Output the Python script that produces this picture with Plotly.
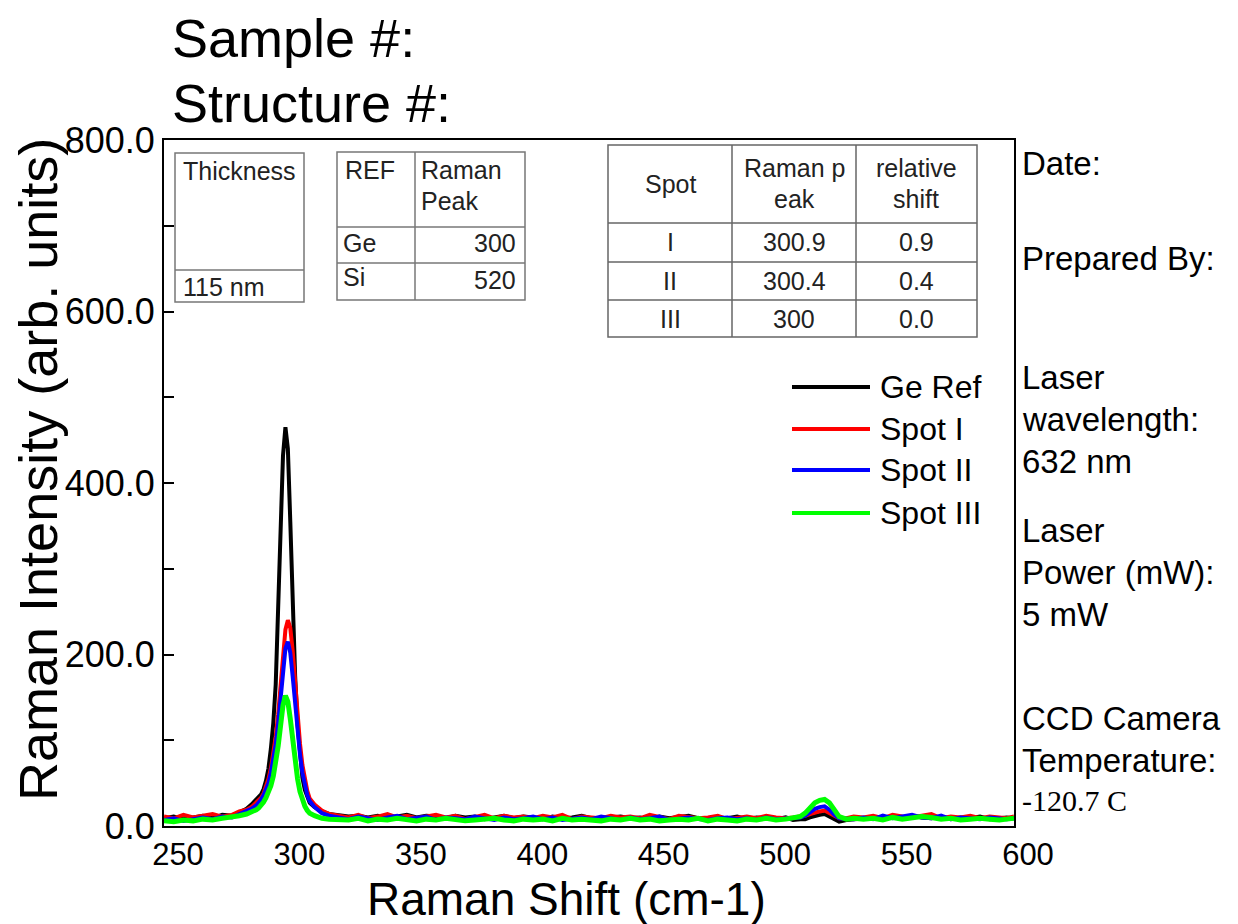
import plotly.graph_objects as go

# ---------------- data ----------------
raman_shift = [250,254,258,262,266,270,274,278,281,284,286,288,
               289,290,291,292,293,294,295,296,297,298,299,300,301,302,303,304,305,306,307,308,309,310,
               312,315,318,
               322,326,330,334,338,342,346,350,354,358,362,366,370,374,378,382,386,390,394,398,402,406,
               410,414,418,422,426,430,434,438,442,446,450,454,458,462,466,470,474,478,482,486,490,494,
               498,502,506,
               509,512,514,516,518,520,522,524,526,528,531,534,
               538,542,546,550,554,558,562,566,570,574,578,582,586,590,594,597,600]

ge_ref = [9,11,8,10,12,9,13,12,16,20,25,30,
          34,37,43,53,67,90,120,165,245,335,432,465,440,355,255,175,118,80,56,42,33,27,
          22,17,14,
          13,11,12,10,12,9,11,13,10,12,11,9,12,10,11,8,10,12,9,11,10,8,11,9,10,12,9,8,10,11,
          9,10,8,11,9,10,12,9,8,10,9,11,8,10,9,8,10,
          7,8,8,10,12,13,14,11,7,5,7,8,
          9,10,8,11,9,12,10,9,11,8,10,9,11,8,9,10,9]

spot_1 = [11,9,13,10,12,14,11,13,17,19,22,27,
          30,33,38,45,55,67,83,104,130,162,198,229,240,231,204,167,129,96,71,53,41,32,
          25,18,14,
          12,10,13,9,11,14,10,12,9,11,13,10,12,8,11,13,9,12,10,11,9,12,10,13,8,11,10,9,12,10,
          11,9,13,10,8,12,11,9,10,12,8,10,11,9,12,10,9,
          10,11,12,14,16,17,18,15,11,9,9,11,
          10,12,9,13,11,10,12,14,9,11,10,12,9,11,10,9,11]

spot_2 = [7,9,6,8,10,8,11,10,14,17,20,24,
          27,31,36,42,50,62,77,95,119,148,180,207,215,202,174,141,110,83,62,47,36,29,
          22,15,12,
          10,8,11,9,7,10,12,8,9,11,7,10,9,8,11,9,7,10,8,9,11,8,10,7,9,10,8,11,9,7,
          10,8,9,11,7,9,10,8,7,9,10,8,9,7,10,8,9,
          9,10,12,16,20,22,23,19,13,9,9,8,
          10,8,12,9,11,13,10,9,12,8,10,9,8,10,9,8,9]

spot_3 = [6,5,7,6,8,7,9,10,12,14,16,19,
          21,24,28,33,39,47,58,73,93,117,141,152,145,125,99,75,55,40,30,23,18,15,
          12,9,8,
          8,7,9,6,8,7,9,8,6,8,7,9,8,6,7,8,9,7,6,8,7,8,6,9,7,8,7,6,8,7,
          9,7,8,6,7,8,7,9,6,8,7,6,8,7,9,7,8,
          9,11,15,21,27,30,31,27,19,11,8,9,
          8,9,7,10,8,9,11,10,8,9,7,8,9,8,7,8,9]

series_names = ["Ge Ref", "Spot I", "Spot II", "Spot III"]
series_values = [ge_ref, spot_1, spot_2, spot_3]
series_colors = ["#000000", "#ff0000", "#0000ff", "#00ff00"]
series_widths = [4, 4, 4, 5]

y_tick_vals = [0, 100, 200, 300, 400, 500, 600, 700, 800]
y_tick_text = ["0.0", "", "200.0", "", "400.0", "", "600.0", "", "800.0"]
x_tick_vals = [250, 300, 350, 400, 450, 500, 550, 600]

ref_rows = [["Ge", "300"], ["Si", "520"]]
spot_rows = [["I", "300.9", "0.9"], ["II", "300.4", "0.4"], ["III", "300", "0.0"]]
thickness = "115 nm"

info_lines = [("Date:", 163), ("Prepared By:", 258),
              ("Laser", 377), ("wavelength:", 419), ("632 nm", 461),
              ("Laser", 530), ("Power (mW):", 572), ("5 mW", 614),
              ("CCD Camera", 718), ("Temperature:", 760)]
ccd_temp = "-120.7 C"

# ---------------- layout geometry (pixels) ----------------
W, H = 1238, 924
L, R, T, B = 164, 1014, 140, 826
def px(x):
    return (x - L) / (R - L)
def py(y):
    return (B - y) / (B - T)

FONT = "Liberation Sans, Arial, sans-serif"

fig = go.Figure()
for name, vals, col, w in zip(series_names, series_values, series_colors, series_widths):
    fig.add_trace(go.Scatter(x=raman_shift, y=vals, mode="lines", name=name,
                             line=dict(color=col, width=w), showlegend=False))

shapes = []
annots = []

def text(t, x, y, size, anchor="left", font=FONT, color="#000"):
    annots.append(dict(text=t, x=px(x), y=py(y), xref="paper", yref="paper",
                       xanchor=anchor, yanchor="middle", showarrow=False,
                       font=dict(family=font, size=size, color=color)))

def rect(x0, y0, x1, y1, color="#777", width=1.5):
    shapes.append(dict(type="rect", xref="paper", yref="paper",
                       x0=px(x0), x1=px(x1), y0=py(y0), y1=py(y1),
                       line=dict(color=color, width=width), layer="above"))

def line(x0, y0, x1, y1, color="#777", width=1.5):
    shapes.append(dict(type="line", xref="paper", yref="paper",
                       x0=px(x0), x1=px(x1), y0=py(y0), y1=py(y1),
                       line=dict(color=color, width=width), layer="above"))

TF = 25
# Thickness table
rect(175, 153, 304, 302)
line(175, 270, 304, 270)
text("Thickness", 181, 171, TF, color="#222")
text(thickness, 181, 287, TF, color="#222")

# REF table
rect(337, 152, 525, 300)
line(415, 152, 415, 300)
line(337, 227, 525, 227)
line(337, 263, 525, 263)
text("REF", 343, 170, TF, color="#222")
text("Raman", 419, 170, TF, color="#222")
text("Peak", 419, 201, TF, color="#222")
for (el, val), yy in zip(ref_rows, [243, 280]):
    text(el, 341, yy - 3 if el == "Si" else yy, TF, color="#222")
    text(val, 518, yy, TF, anchor="right", color="#222")

# Spot table
rect(608, 145, 977, 337, color="#666")
line(732, 145, 732, 337, color="#666")
line(856, 145, 856, 337, color="#666")
for yy in [223, 262, 300]:
    line(608, yy, 977, yy, color="#666")
text("Spot", 670, 184, TF, anchor="center", color="#222")
text("Raman p", 794, 168, TF, anchor="center", color="#222")
text("eak", 794, 199, TF, anchor="center", color="#222")
text("relative", 916, 168, TF, anchor="center", color="#222")
text("shift", 916, 199, TF, anchor="center", color="#222")
for row, yy in zip(spot_rows, [242, 281, 319]):
    for cell, xx in zip(row, [670, 794, 916]):
        text(cell, xx, yy, TF, anchor="center", color="#222")

# legend (custom, long line samples)
for name, col, yy in zip(series_names, series_colors, [387, 429, 470, 513]):
    line(792, yy, 870, yy, color=col, width=4)
    text(name, 878, yy, 32)

# header
text("Sample #:", 170, 38, 54)
text("Structure #:", 170, 103, 54)

# right-side info
for t, yy in info_lines:
    text(t, 1020, yy, 33)
text(ccd_temp, 1020, 800, 30, font="Liberation Serif, Times New Roman, serif")

# axis titles
text("Raman Shift (cm-1)", 566, 899, 46, anchor="center")
annots.append(dict(text="Raman Intensity (arb. units)", x=px(38), y=py(470),
                   xref="paper", yref="paper", xanchor="center", yanchor="middle",
                   textangle=-90, showarrow=False,
                   font=dict(family=FONT, size=54, color="#000")))

fig.update_layout(
    width=W, height=H,
    margin=dict(l=L, r=W - R, t=T, b=H - B, pad=0),
    paper_bgcolor="white", plot_bgcolor="white",
    font=dict(family=FONT, color="#000"),
    shapes=shapes, annotations=annots, showlegend=False,
)
fig.update_xaxes(range=[250, 600], tickvals=x_tick_vals, ticks="",
                 showline=True, linecolor="black", linewidth=2, mirror=True,
                 showgrid=False, zeroline=False, ticklabelshift=14, ticklabelstandoff=0,
                 tickfont=dict(size=31, family=FONT, color="#000"))
fig.update_yaxes(range=[0, 800], tickvals=y_tick_vals, ticktext=y_tick_text,
                 ticks="inside", ticklen=10, tickwidth=2, tickcolor="black",
                 showline=True, linecolor="black", linewidth=2, mirror=True,
                 showgrid=False, zeroline=False, ticklabelstandoff=0,
                 tickfont=dict(size=36, family=FONT, color="#000"))

fig.write_html("out.html")
